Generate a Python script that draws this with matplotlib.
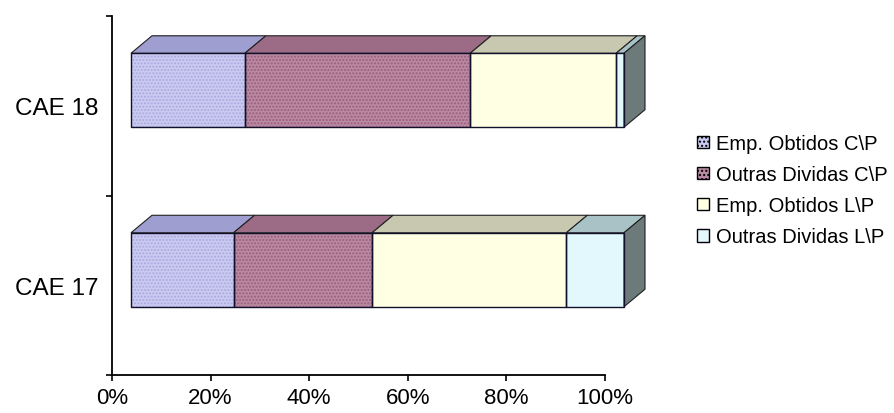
import matplotlib
matplotlib.use("Agg")
import matplotlib.pyplot as plt
import matplotlib.transforms as mtransforms
from matplotlib.patches import Polygon, Patch
import numpy as np

plt.rcParams['font.family'] = ['Liberation Sans', 'DejaVu Sans']

# data (percent of total for each category)
categories = ["CAE 17", "CAE 18"]
series = ["Emp. Obtidos C\\P", "Outras Dividas C\\P", "Emp. Obtidos L\\P", "Outras Dividas L\\P"]
cae17 = [20.8, 28.1, 39.4, 11.7]
cae18 = [23.1, 45.7, 29.6, 1.6]

front_cols = ["#cbcbf2", "#b98aa2", "#ffffe4", "#e2f8fd"]
dot_cols = ["#a9a9e0", "#9a5d7c", None, None]
top_cols = ["#9e9ed0", "#9c6b86", "#c8c8b0", "#a9c2c6"]
side_col = "#6c7a7a"

W, H = 895, 414
fig = plt.figure(figsize=(W / 100, H / 100), dpi=100)
ax = fig.add_axes([112 / W, (H - 376) / H, 493 / W, 359 / H])
ax.set_xlim(0, 100)
ax.set_ylim(-0.5, 1.5)

# 3d look: front face shifted, depth drawn as parallelograms
shift = mtransforms.ScaledTranslation(19 / 100, 15.5 / 100, fig.dpi_scale_trans)
tr = ax.transData + shift
dx = 21 / 493 * 100
dy = 17.5 / 179.5
bh = 0.412

data = np.array([cae17, cae18])
ypos = np.arange(len(categories))
for i, y in enumerate(ypos):
    left = 0.0
    y0, y1 = y - bh / 2, y + bh / 2
    for j, v in enumerate(data[i]):
        r = left + v
        ax.barh(y, v, left=left, height=bh, color=front_cols[j], linewidth=0,
                transform=tr, clip_on=False, zorder=2)
        if dot_cols[j]:
            ax.barh(y, v, left=left, height=bh, color='none', edgecolor=dot_cols[j],
                    hatch='.....', linewidth=0, transform=tr, clip_on=False, zorder=2)
        ax.barh(y, v, left=left, height=bh, fill=False, edgecolor='#10102a',
                linewidth=1.0, transform=tr, clip_on=False, zorder=3)
        top = Polygon([(left, y1), (r, y1), (r + dx, y1 + dy), (left + dx, y1 + dy)],
                      closed=True, facecolor=top_cols[j], edgecolor='#202020',
                      linewidth=0.8, transform=tr, clip_on=False, zorder=2)
        ax.add_patch(top)
        left = r
    side = Polygon([(left, y0), (left + dx, y0 + dy), (left + dx, y1 + dy), (left, y1)],
                   closed=True, facecolor=side_col, edgecolor='#202020',
                   linewidth=0.8, transform=tr, clip_on=False, zorder=2)
    ax.add_patch(side)

for s in ['top', 'right']:
    ax.spines[s].set_visible(False)
for s in ['left', 'bottom']:
    ax.spines[s].set_linewidth(1.3)

ax.set_xticks([0, 20, 40, 60, 80, 100])
ax.set_xticklabels(["0%", "20%", "40%", "60%", "80%", "100%"], fontsize=16)
ax.tick_params(axis='x', direction='out', length=4, width=1.2, pad=5)
ax.set_yticks(ypos)
ax.set_yticklabels(categories, fontsize=17.5)
ax.set_yticks([-0.5, 0.5, 1.5], minor=True)
ax.tick_params(axis='y', which='major', length=0, pad=10)
ax.tick_params(axis='y', which='minor', direction='out', length=4, width=1.2)

handles = []
for j in range(len(series)):
    handles.append(Patch(facecolor=front_cols[j], edgecolor='black', linewidth=1.0,
                         hatch='....' if j < 2 else None))
fig.legend(handles, series, loc='upper left', bbox_to_anchor=(697 / W, 1 - 135 / H),
           frameon=False, fontsize=14.5, handlelength=0.6, handleheight=0.6,
           handletextpad=0.35, labelspacing=0.6, borderpad=0, borderaxespad=0)

fig.savefig("out.png", dpi=100)
